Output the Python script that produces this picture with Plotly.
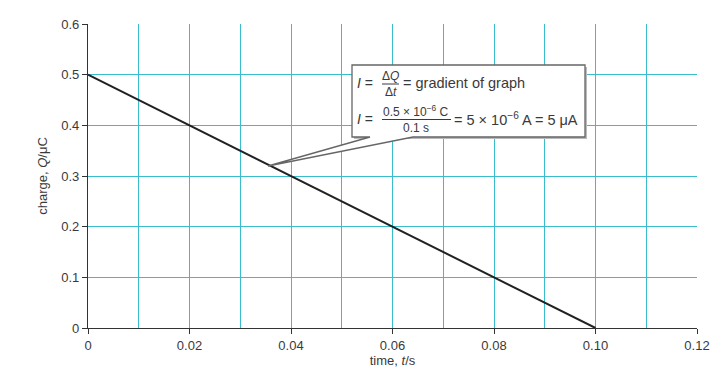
import plotly.graph_objects as go

# Data
time_s = [0.0, 0.10]
charge_uC = [0.5, 0.0]
x_tickvals = [0, 0.02, 0.04, 0.06, 0.08, 0.10, 0.12]
x_ticktext = ["0", "0.02", "0.04", "0.06", "0.08", "0.10", "0.12"]
y_tickvals = [0, 0.1, 0.2, 0.3, 0.4, 0.5, 0.6]
y_ticktext = ["0", "0.1", "0.2", "0.3", "0.4", "0.5", "0.6"]

W, H = 728, 378
L, R, T, B = 88, 31, 24, 50
PW, PH = W - L - R, H - T - B

def px(x):
    return (x - L) / PW

def py(y):
    return (H - B - y) / PH

FONT = "Liberation Sans, Arial, sans-serif"
GRID = "#39bccb"
TXT = "#3a3a3a"

fig = go.Figure()
fig.add_trace(go.Scatter(x=time_s, y=charge_uC, mode="lines",
                         line=dict(color="#222222", width=2), showlegend=False,
                         hoverinfo="skip"))

# Callout box with pointer
bx0, bx1, by0, by1 = 352, 585, 65, 137
pl, pr, tipx, tipy = 370, 413, 268, 166
path = (f"M {px(bx0)},{py(by1)} L {px(pl)},{py(by1)} L {px(tipx)},{py(tipy)} "
        f"L {px(pr)},{py(by1)} L {px(bx1)},{py(by1)} L {px(bx1)},{py(by0)} "
        f"L {px(bx0)},{py(by0)} Z")
spath = (f"M {px(bx0+2)},{py(by1+2)} L {px(bx1+2)},{py(by1+2)} L {px(bx1+2)},{py(by0+2)} "
         f"L {px(bx0+2)},{py(by0+2)} Z")
shapes = [
    dict(type="path", path=spath, xref="paper", yref="paper",
         fillcolor="#bbbbbb", line=dict(width=0), layer="above"),
    dict(type="path", path=path, xref="paper", yref="paper",
         fillcolor="white", line=dict(color="#666666", width=1.3), layer="above"),
    dict(type="line", xref="paper", yref="paper", x0=px(382), x1=px(399),
         y0=py(84), y1=py(84), line=dict(color=TXT, width=1), layer="above"),
    dict(type="line", xref="paper", yref="paper", x0=px(382), x1=px(451),
         y0=py(119.5), y1=py(119.5), line=dict(color=TXT, width=1), layer="above"),
]

ann = []
def t(xp, yp, text, size=14.5, anchor="left"):
    ann.append(dict(xref="paper", yref="paper", x=px(xp), y=py(yp), text=text,
                    showarrow=False, xanchor=anchor, yanchor="middle",
                    font=dict(family=FONT, size=size, color=TXT)))

t(355, 83, "<i>I</i> =", 14)
t(390.5, 75.5, "Δ<i>Q</i>", 12, "center")
t(390.5, 92, "Δ<i>t</i>", 12, "center")
t(401, 83, "= gradient of graph")
t(355, 119, "<i>I</i> =", 14)
t(416.5, 111, "0.5 × 10<sup>−6</sup> C", 12, "center")
t(416.5, 128, "0.1 s", 12, "center")
t(452, 119, "= 5 × 10<sup>−6</sup> A = 5 μA")

fig.update_layout(
    width=W, height=H,
    margin=dict(l=L, r=R, t=T, b=B),
    paper_bgcolor="white", plot_bgcolor="white",
    shapes=shapes, annotations=ann,
    font=dict(family=FONT, size=13, color=TXT),
    xaxis=dict(range=[0, 0.12], tickvals=x_tickvals, ticktext=x_ticktext,
               showgrid=True, gridcolor=GRID, gridwidth=1,
               minor=dict(dtick=0.01, showgrid=True, gridcolor=GRID, gridwidth=1),
               showline=True, linecolor="#333333", linewidth=1.2,
               ticks="outside", ticklen=5, tickcolor="#333333",
               zeroline=False,
               title=dict(text="time, <i>t</i>/s", standoff=4,
                          font=dict(size=13, color=TXT))),
    yaxis=dict(range=[0, 0.6], tickvals=y_tickvals, ticktext=y_ticktext,
               showgrid=True, gridcolor=GRID, gridwidth=1,
               showline=True, linecolor="#333333", linewidth=1.2,
               ticks="outside", ticklen=5, tickcolor="#333333",
               zeroline=False,
               title=dict(text="charge, <i>Q</i>/μC", standoff=10,
                          font=dict(size=13, color=TXT))),
)

fig.write_html("out.html")
